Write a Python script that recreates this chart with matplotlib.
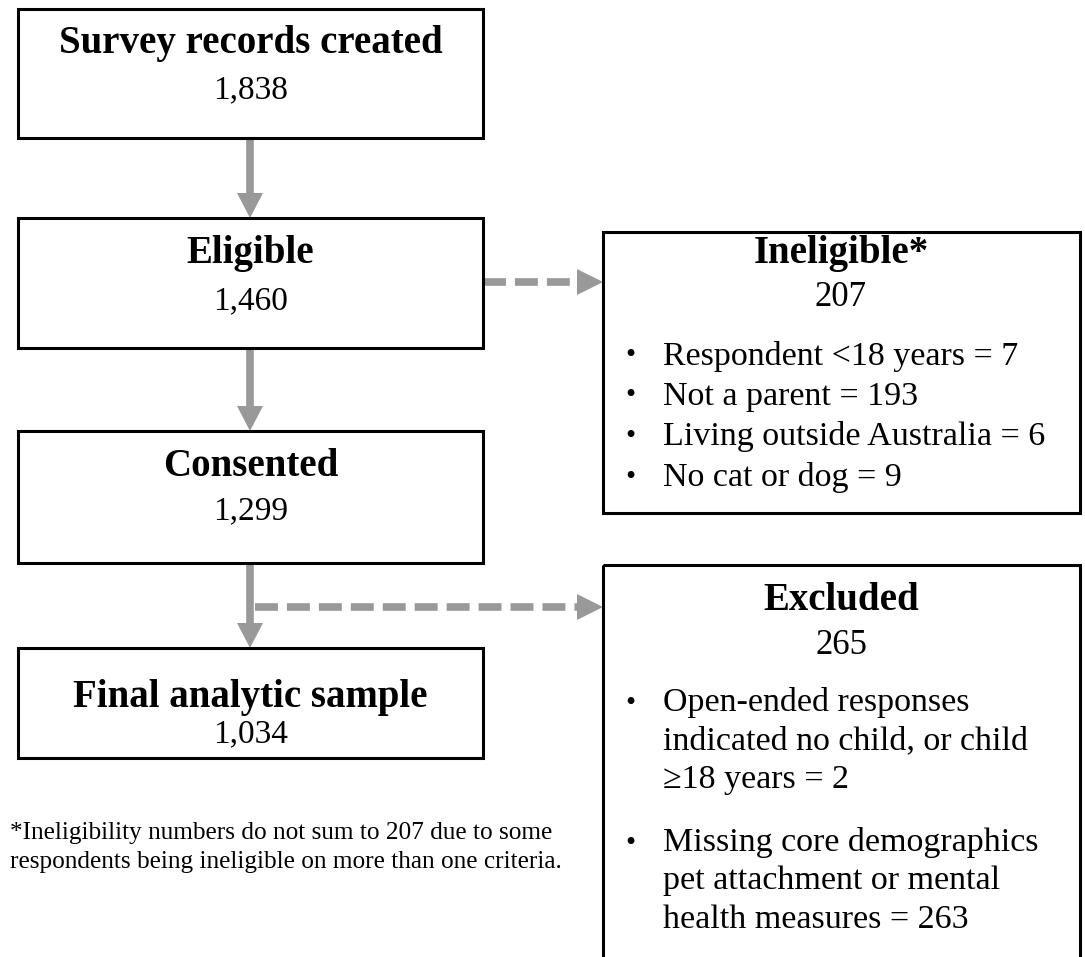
import matplotlib
matplotlib.use('Agg')
import matplotlib.pyplot as plt
from matplotlib.patches import Rectangle, Polygon

plt.rcParams['font.family'] = ['Liberation Serif', 'DejaVu Serif']
plt.rcParams['lines.scale_dashes'] = False

# flow data
STAGES = ['Survey records created', 'Eligible', 'Consented', 'Final analytic sample']
COUNTS = [1838, 1460, 1299, 1034]
INELIG_N = 207
INELIG_LABELS = ['Respondent <18 years', 'Not a parent', 'Living outside Australia', 'No cat or dog']
INELIG_VALS = [7, 193, 6, 9]
EXCL_N = 265
EXCL_LABELS = ['Open-ended responses\nindicated no child, or child\n\u226518 years',
               'Missing core demographics\npet attachment or mental\nhealth measures']
EXCL_VALS = [2, 263]
NOTE = ['*Ineligibility numbers do not sum to 207 due to some',
        'respondents being ineligible on more than one criteria.']

GREY = '#999999'
HEAD_FS, NUM_FS, BODY_FS = 28, 24, 24.5
W, H = 1085, 957
fig = plt.figure(figsize=(W/100, H/100), dpi=100)
ax = fig.add_axes([0, 0, 1, 1])
ax.set_xlim(0, W); ax.set_ylim(H, 0); ax.axis('off')

def box(x0, y0, x1, y1):
    ax.add_patch(Rectangle((x0, y0), x1-x0, y1-y0, fill=False, ec='k', lw=2.2, zorder=3))

def down_arrow(x, y0, y1):
    ax.plot([x, x], [y0, y1-24], color=GREY, lw=5.5, solid_capstyle='butt', zorder=2)
    ax.add_patch(Polygon([[x-13, y1-25], [x+13, y1-25], [x, y1]], closed=True, color=GREY, lw=0, zorder=2))

def right_arrow(x0, x1, y):
    ax.plot([x0, x1-24], [y, y], color=GREY, lw=5.5, dashes=(16.5, 6.5),
            dash_capstyle='butt', zorder=2)
    ax.add_patch(Polygon([[x1-26, y-13], [x1-26, y+13], [x1, y]], closed=True, color=GREY, lw=0, zorder=2))

# left column: box top/bottom, header y, number y
LEFT_X = (18, 483)
LBOX = [(9, 138), (218, 348), (431, 563), (648, 758)]
HY = [43, 253, 467, 697]
NY = [90, 301, 511, 734]
CX = sum(LEFT_X) / 2
for (y0, y1), name, n, hy, ny in zip(LBOX, STAGES, COUNTS, HY, NY):
    box(LEFT_X[0], y0, LEFT_X[1], y1)
    ax.text(CX, hy, name, ha='center', va='center', fontsize=HEAD_FS, fontweight='bold')
    ax.text(CX, ny, f'{n:,}', ha='center', va='center', fontsize=NUM_FS)

for (a0, a1), (b0, b1) in zip(LBOX[:-1], LBOX[1:]):
    down_arrow(250, a1, b0)

# ineligible box
box(603, 232, 1080, 513)
ax.text(841, 254, 'Ineligible*', ha='center', va='center', fontsize=HEAD_FS, fontweight='bold')
ax.text(841, 298, f'{INELIG_N}', ha='center', va='center', fontsize=NUM_FS + 1)
for i, (lab, v) in enumerate(zip(INELIG_LABELS, INELIG_VALS)):
    y = 356 + i*40.5
    ax.text(630, y, '\u2022', ha='center', va='center', fontsize=21)
    ax.text(663, y, f'{lab} = {v}', ha='left', va='center', fontsize=BODY_FS)
right_arrow(483, 603, 282)

# excluded box (runs off the bottom edge)
box(603, 565, 1080, 1000)
ax.text(841, 600, 'Excluded', ha='center', va='center', fontsize=HEAD_FS, fontweight='bold')
ax.text(841, 645, f'{EXCL_N}', ha='center', va='center', fontsize=NUM_FS + 1)
for y, lab, v in zip([704, 844], EXCL_LABELS, EXCL_VALS):
    ax.text(630, y, '\u2022', ha='center', va='center', fontsize=21)
    ax.text(663, y - 17, f'{lab} = {v}', ha='left', va='top', fontsize=BODY_FS, linespacing=1.33)
right_arrow(255, 603, 607)

for y, line in zip([833, 862], NOTE):
    ax.text(10, y, line, ha='left', va='center', fontsize=18.2)

fig.savefig('out.png', dpi=100)
